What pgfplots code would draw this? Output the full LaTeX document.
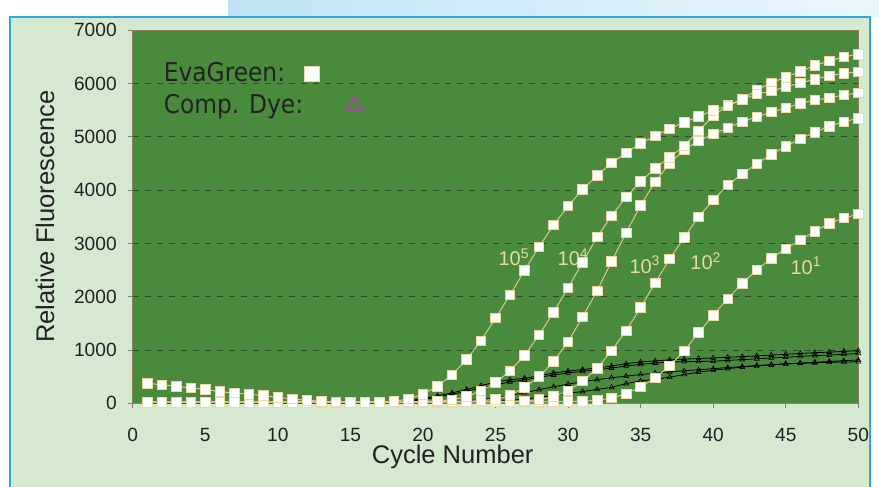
\documentclass[border=0pt]{standalone}
\usepackage{fontspec}
\setmainfont{Liberation Sans}
\newfontfamily\legfont{DejaVu Sans Condensed}
\usepackage{pgfplots}
\usepackage{pgfplotstable}
\pgfplotsset{compat=1.18}

\definecolor{plotgreen}{HTML}{4A8A3C}
\definecolor{panelgreen}{HTML}{D5E8D0}
\definecolor{frameblue}{HTML}{2AA9E0}
\definecolor{bandblue}{HTML}{BFE3F6}
\definecolor{gridgreen}{HTML}{2C4F28}
\definecolor{linetan}{HTML}{D9C98A}
\definecolor{marktan}{HTML}{EED8A6}
\definecolor{labeltan}{HTML}{E6DAA2}
\definecolor{dyepurple}{HTML}{9A4E9A}
\definecolor{textgray}{HTML}{222222}

% EvaGreen curves: A=10^5, B=10^4, C, D, F=10^1
\pgfplotstableread{
c  A     B     C     D     F
1  375   22    20    24    18
2  349   20    22    22    20
3  319   22    20    24    20
4  287   20    22    20    22
5  262   22    20    22    20
6  218   20    22    20    22
7  193   22    20    22    20
8  169   20    22    20    22
9  143   22    20    22    20
10 112   20    22    20    22
11 81    22    20    22    20
12 56    20    22    20    22
13 40    22    20    22    20
14 25    20    22    20    22
15 15    22    20    22    20
16 20    20    22    20    22
17 20    22    20    22    20
18 35    24    22    20    22
19 81    28    22    22    20
20 170   35    24    22    22
21 320   45    26    24    22
22 535   65    30    24    22
23 820   124   38    26    24
24 1172  236   50    28    24
25 1600  387   75    30    26
26 2032  606   150   34    26
27 2495  900   300   42    28
28 2938  1281  500   70    28
29 3345  1710  781   124   30
30 3701  2169  1156  236   34
31 4015  2645  1620  418   40
32 4277  3120  2112  657   55
33 4508  3519  2664  987   100
34 4702  3870  3200  1362  180
35 4878  4165  3714  1795  305
36 5015  4408  4158  2263  480
37 5150  4620  4500  2707  700
38 5275  4830  4760  3114  987
39 5380  5114  4927  3501  1325
40 5502  5390  5052  3814  1655
41 5580  5590  5170  4095  1963
42 5700  5710  5283  4302  2251
43 5803  5878  5377  4495  2501
44 5859  6015  5465  4671  2720
45 5934  6121  5540  4821  2900
46 6015  6229  5628  4964  3063
47 6078  6341  5690  5084  3227
48 6146  6422  5733  5202  3377
49 6191  6503  5784  5283  3476
50 6221  6553  5827  5352  3551
}\evagreen

% compensating dye curves
\pgfplotstableread{
c  U1   U2   L1   L2
1  10   10   10   10
2  10   10   10   10
3  10   10   10   10
4  10   10   10   10
5  10   10   10   10
6  10   10   10   10
7  10   10   10   10
8  10   10   10   10
9  10   10   10   10
10 10   10   10   10
11 10   10   10   10
12 10   10   10   10
13 10   10   10   10
14 10   10   10   10
15 10   10   10   10
16 10   10   10   10
17 10   10   10   10
18 20   10   10   10
19 45   30   10   10
20 90   70   10   10
21 140  115  10   10
22 195  170  25   10
23 260  225  45   10
24 330  290  70   20
25 400  350  100  35
26 440  400  150  55
27 470  440  200  80
28 515  490  255  110
29 570  530  310  150
30 605  570  360  190
31 635  600  405  220
32 660  630  445  260
33 700  660  480  300
34 745  700  510  370
35 775  730  540  420
36 795  755  565  450
37 815  775  590  490
38 830  780  610  540
39 840  785  630  585
40 850  790  650  620
41 865  805  670  650
42 875  820  690  680
43 890  835  710  700
44 905  850  725  720
45 920  865  740  740
46 935  880  755  750
47 950  895  770  760
48 960  905  785  770
49 975  920  800  775
50 987  935  812  780
}\dye

\pgfplotsset{
  eva/.style={color=linetan, line width=0.5bp, mark=square*, mark size=2.4bp,
    mark options={fill=white, draw=marktan, line width=0.4bp, solid}},
  dyeline/.style={black, line width=0.4bp, mark=triangle, mark size=1.4bp,
    mark options={black, line width=0.3bp}},
}

\begin{document}
\begin{tikzpicture}
\begin{scope}[shift={(-66.35bp,201.65bp)}, x=0.5bp, y=-0.5bp]
  \fill[white] (0,0) rectangle (879,487);
  \shade[left color=bandblue, right color=bandblue!30!white] (228,0) rectangle (879,17);
  \fill[panelgreen] (10,17) rectangle (870,487);
  \draw[frameblue, line width=1.2bp] (10,487) -- (10,17) -- (870,17) -- (870,487);
\end{scope}

\begin{axis}[
  at={(0,0)}, anchor=south west,
  scale only axis, width=362.8bp, height=186.5bp,
  xmin=0, xmax=50, ymin=0, ymax=7000,
  xtick={0,5,...,50}, ytick={0,1000,...,7000},
  axis background/.style={fill=plotgreen},
  ymajorgrids,
  major grid style={gridgreen, line width=0.5bp, dash pattern=on 3bp off 3bp},
  axis line style={draw=black!35!linetan, line width=0.6bp},
  tick align=outside, xtick pos=left, ytick pos=left,
  major tick length=2.5bp, tick style={black!50, line width=0.5bp},
  ticklabel style={font=\fontsize{9.6}{11}\selectfont, text=textgray},
  xticklabel style={yshift=-6.5bp},
  yticklabel style={xshift=-2bp},
  /pgf/number format/assume math mode=true,
  /pgf/number format/set thousands separator={},
  xlabel={Cycle Number}, ylabel={Relative Fluorescence},
  label style={font=\fontsize{12.8}{14}\selectfont, text=textgray},
  xlabel style={at={(axis description cs:0.441,-0.1448)}, anchor=center},
  ylabel style={at={(axis description cs:-0.1209,0.5)}, anchor=center},
  clip=false,
  legend plot pos=right,
  legend style={draw=none, fill=none, at={(axis description cs:0.037,0.925)},
    anchor=north west, font=\legfont\fontsize{13}{15.5}\selectfont,
    text=textgray, row sep=0.5bp, inner sep=0pt, cells={anchor=west}},
]
\addlegendimage{legend image code/.code={
  \path[draw=none, fill=none] (0bp,-4bp) rectangle (1bp,4bp);
  \draw[overlay, only marks, mark=square*, mark size=3.7bp,
    mark options={fill=white, draw=marktan, line width=0.4bp}] plot coordinates {(2.5bp,0bp)};}}
\addlegendimage{legend image code/.code={
  \path[draw=none, fill=none] (0bp,-4bp) rectangle (1bp,4bp);
  \draw[overlay, only marks, mark=triangle, mark size=4.6bp,
    mark options={draw=dyepurple, line width=1.1bp}] plot coordinates {(23.5bp,-0.5bp)};}}

\addplot[dyeline] table[x=c, y=L2] {\dye};
\addplot[dyeline] table[x=c, y=L1] {\dye};
\addplot[dyeline] table[x=c, y=U2] {\dye};
\addplot[dyeline] table[x=c, y=U1] {\dye};

\addplot[eva] table[x=c, y=F] {\evagreen};
\addplot[eva] table[x=c, y=D] {\evagreen};
\addplot[eva] table[x=c, y=C] {\evagreen};
\addplot[eva] table[x=c, y=B] {\evagreen};
\addplot[eva] table[x=c, y=A] {\evagreen};

\legend{EvaGreen:, Comp. Dye:}

\node[text=labeltan, font=\fontsize{10}{12}\selectfont] at (axis cs:26.28,2740) {10\textsuperscript{5}};
\node[text=labeltan, font=\fontsize{10}{12}\selectfont] at (axis cs:30.35,2740) {10\textsuperscript{4}};
\node[text=labeltan, font=\fontsize{10}{12}\selectfont] at (axis cs:35.3,2600) {10\textsuperscript{3}};
\node[text=labeltan, font=\fontsize{10}{12}\selectfont] at (axis cs:39.5,2660) {10\textsuperscript{2}};
\node[text=labeltan, font=\fontsize{10}{12}\selectfont] at (axis cs:46.4,2580) {10\textsuperscript{1}};
\end{axis}

\pgfresetboundingbox
\begin{scope}[shift={(-66.35bp,201.65bp)}, x=0.5bp, y=-0.5bp]
  \path[use as bounding box] (0,0) rectangle (879,487);
\end{scope}
\end{tikzpicture}
\end{document}
